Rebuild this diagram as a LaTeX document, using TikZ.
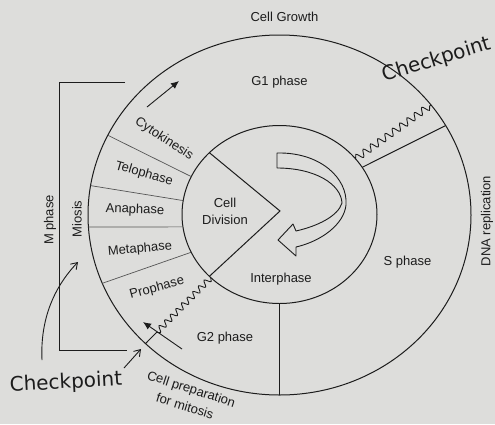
\documentclass[tikz,border=0pt]{standalone}
\usepackage{fontspec}
\setmainfont{Liberation Sans}
\newfontfamily\handfont{DejaVu Sans}
\usetikzlibrary{arrows.meta,decorations.pathmorphing,calc}
\definecolor{bg}{RGB}{221,221,219}
\definecolor{ink}{RGB}{28,28,28}
\begin{document}
\begin{tikzpicture}[x=1pt,y=-1pt,
  lbl/.style={font=\fontsize{13}{15}\selectfont, text=ink, inner sep=0pt},
  hand/.style={font=\handfont\fontsize{20}{22}\selectfont, text=ink, inner sep=0pt},
  ring/.style={draw=ink, line width=1pt},
  sep/.style={draw=ink!75, line width=0.7pt},
  wavy/.style={draw=ink, line width=0.9pt, decorate,
    decoration={snake, segment length=9pt, amplitude=3.5pt}},
  pen/.style={draw=ink, line width=0.9pt},
]
\fill[bg] (0,0) rectangle (495,424);
\useasboundingbox (0,0) rectangle (495,424);

% centres
\coordinate (CO) at (279.5,215);
\coordinate (CI) at (279.5,214.5);

% circles
\draw[ring] (CO) ellipse [x radius=191.5, y radius=180];
\draw[ring] (CI) ellipse [x radius=97.5, y radius=89];

% sector separators (mitosis stages)
\coordinate (o1) at ($(CO)+(206.3:191.5 and 180)$);
\coordinate (i1) at ($(CI)+(205.2:97.5 and 89)$);
\coordinate (o2) at ($(CO)+(189.4:191.5 and 180)$);
\coordinate (i2) at ($(CI)+(189.0:97.5 and 89)$);
\coordinate (o3) at ($(CO)+(176.2:191.5 and 180)$);
\coordinate (i3) at ($(CI)+(172.0:97.5 and 89)$);
\coordinate (o4) at ($(CO)+(157.7:191.5 and 180)$);
\coordinate (i4) at ($(CI)+(154.9:97.5 and 89)$);
\draw[sep] (o1) -- (i1);
\draw[sep] (o2) -- (i2);
\draw[sep] (o3) -- (i3);
\draw[sep] (o4) -- (i4);

% cell division wedge
\coordinate (wu) at ($(CI)+(224:97.5 and 89)$);
\coordinate (wl) at ($(CI)+(136:97.5 and 89)$);
\coordinate (apex) at (280,211);
\draw[ring] (wu) -- (apex) -- (wl);

% G2 / S boundary
\coordinate (bi) at ($(CI)+(90:97.5 and 89)$);
\coordinate (bo) at ($(CO)+(90:191.5 and 180)$);
\draw[ring] (bi) -- (bo);

% G1 / S boundary and checkpoint
\coordinate (si) at ($(CI)+(328:97.5 and 89)$);
\coordinate (so) at ($(CO)+(330.2:191.5 and 180)$);
\draw[ring] (si) -- (so);
\coordinate (ci) at ($(CI)+(321.3:97.5 and 89)$);
\coordinate (co) at ($(CO)+(322.3:191.5 and 180)$);
\draw[wavy] (ci) -- (co);

% lower checkpoint (G2 / prophase)
\coordinate (li) at ($(CI)+(134.8:97.5 and 89)$);
\coordinate (lo) at ($(CO)+(134.4:191.5 and 180)$);
\draw[wavy, decoration={snake, segment length=8pt, amplitude=3pt, post length=12pt}] (li) -- (lo);

% big U-turn arrow
\draw[pen, fill=bg, line join=round]
  (277,153) .. controls (320,152) and (348,178) .. (346,205)
  .. controls (344,224) and (322,241) .. (296,247)
  -- (296,256) -- (278,240) -- (293,224) -- (296,231)
  .. controls (318,226) and (338,216) .. (342,203)
  .. controls (341,184) and (315,168) .. (277,168) -- cycle;

% arrow in G1
\coordinate (g1a) at (147,107);
\coordinate (g1b) at (179,81);
\draw[pen, -{Latex[length=8pt,width=7pt]}] (g1a) -- (g1b);

% arrow across lower checkpoint
\coordinate (pa) at (182,349);
\coordinate (pb) at (143,322);
\draw[pen, -{Latex[length=8pt,width=7pt]}] (pa) -- (pb);

% M phase bracket
\coordinate (mb1) at (125,82);
\coordinate (mb2) at (59,82);
\coordinate (mb3) at (59,350);
\coordinate (mb4) at (127,350);
\draw[pen] (mb1) -- (mb2) -- (mb3) -- (mb4);

% handwritten checkpoint arrows
\coordinate (ha1) at (42,360);
\coordinate (ha2) at (78,262);
\draw[pen, -{Straight Barb[length=6pt,width=8pt]}] (ha1) .. controls (40,318) and (55,286) .. (ha2);
\coordinate (hb1) at (124,368);
\coordinate (hb2) at (141,349);
\draw[pen, -{Straight Barb[length=6pt,width=8pt]}] (hb1) -- (hb2);

% labels
\node[lbl] (growth) at (284.5,17) {Cell Growth};
\node[lbl] (g1) at (279.5,82) {G1 phase};
\node[lbl] (sph) at (407.5,262) {S phase};
\node[lbl] (inter) at (281,279) {Interphase};
\node[lbl] (g2) at (225,338) {G2 phase};
\node[lbl, rotate=90] (dna) at (487,221) {DNA replication};
\node[lbl, rotate=90] (mph) at (50,220) {M phase};
\node[lbl, rotate=90] (mio) at (77,219) {Miosis};
\node[lbl, align=center] (div) at (225,211) {Cell\\[2pt]Division};

\node[lbl, rotate=-33] (cyto) at (164,139) {Cytokinesis};
\node[lbl, rotate=-16] (telo) at (144,174) {Telophase};
\node[lbl, rotate=-2] (ana) at (135,210) {Anaphase};
\node[lbl, rotate=5] (meta) at (140,249) {Metaphase};
\node[lbl, rotate=15] (pro) at (157,288) {Prophase};

\node[lbl, rotate=-18] (prep1) at (191,390) {Cell preparation};
\node[lbl, rotate=-17] (prep2) at (185,406) {for mitosis};

\node[hand, rotate=17] (chk1) at (437,60) {Checkpoint};
\node[hand, rotate=3] (chk2) at (66,383) {Checkpoint};
\end{tikzpicture}
\end{document}
